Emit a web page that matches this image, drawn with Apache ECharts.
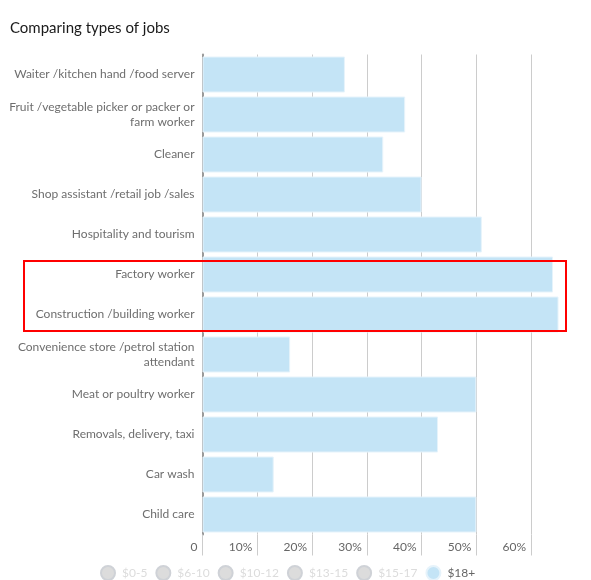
<!DOCTYPE html>
<html>
<head>
<meta charset="utf-8">
<script src="https://cdn.jsdelivr.net/npm/echarts@6/dist/echarts.min.js"></script>
<style>
html,body{margin:0;padding:0;background:#fff;}
#chart{width:591px;height:580px;}
</style>
</head>
<body>
<div id="chart"></div>
<script>
var categories = [
  'Waiter /kitchen hand /food server',
  'Fruit /vegetable picker or packer or\nfarm worker',
  'Cleaner',
  'Shop assistant /retail job /sales',
  'Hospitality and tourism',
  'Factory worker',
  'Construction /building worker',
  'Convenience store /petrol station\nattendant',
  'Meat or poultry worker',
  'Removals, delivery, taxi',
  'Car wash',
  'Child care'
];
var seriesNames = ['$0-5', '$6-10', '$10-12', '$13-15', '$15-17', '$18+'];
var values18plus = [26, 37, 33, 40, 51, 64, 65, 16, 50, 43, 13, 50];
var tickValues = [0, 10, 20, 30, 40, 50, 60];
var highlighted = ['Factory worker', 'Construction /building worker'];

var FONT = 'Lato, "Noto Sans", sans-serif';
var chart = echarts.init(document.getElementById('chart'), null, {renderer: 'canvas'});

var selected = {};
seriesNames.forEach(function (n, i) { selected[n] = (i === seriesNames.length - 1); });

var series = seriesNames.map(function (n, i) {
  return {
    name: n,
    type: 'bar',
    data: i === seriesNames.length - 1 ? values18plus : [],
    barCategoryGap: '10%',
    itemStyle: {color: '#c4e4f6', borderColor: '#e6f3fb', borderWidth: 1},
    emphasis: {disabled: true},
    animation: false
  };
});

chart.setOption({
  animation: false,
  textStyle: {fontFamily: FONT},
  title: {
    text: 'Comparing types of jobs',
    left: 5,
    top: 16,
    textStyle: {fontSize: 15, fontWeight: 'normal', color: '#1a1a1a', fontFamily: FONT}
  },
  legend: {
    data: seriesNames,
    selected: selected,
    icon: 'circle',
    itemWidth: 18,
    itemHeight: 14,
    itemGap: 8,
    left: 95,
    top: 560,
    inactiveColor: '#dcdcdc',
    textStyle: {fontSize: 12, color: '#666', fontFamily: FONT}
  },
  grid: {left: 202.5, right: 27, top: 54.5, bottom: 45.5, containLabel: false},
  xAxis: {
    type: 'value',
    min: 0,
    max: 66,
    axisLine: {show: false},
    axisTick: {show: true, length: 21, customValues: tickValues, lineStyle: {color: '#cccccc', width: 1}},
    splitLine: {show: true, lineStyle: {color: '#cccccc', width: 1}},
    axisLabel: {
      customValues: tickValues,
      fontSize: 12,
      color: '#666',
      margin: 7,
      align: 'right',
      padding: [0, 5, 0, 0],
      formatter: function (v) { return v === 0 ? '0' : v + '%'; }
    }
  },
  yAxis: {
    type: 'category',
    inverse: true,
    data: categories,
    axisLine: {show: true, lineStyle: {color: '#999', width: 2}},
    axisTick: {show: false},
    axisLabel: {fontSize: 12, color: '#6e6e6e', margin: 8, lineHeight: 15, align: 'right', padding: [4, 0, 0, 0]}
  },
  series: series
});

var yTop = chart.convertToPixel({yAxisIndex: 0}, highlighted[0]);
var yBot = chart.convertToPixel({yAxisIndex: 0}, highlighted[1]);
var xRight = chart.convertToPixel({xAxisIndex: 0}, 66);
chart.setOption({
  graphic: [{
    type: 'rect',
    shape: {x: 24, y: yTop - 13.5, width: xRight + 2 - 24, height: (yBot + 16.5) - (yTop - 13.5)},
    style: {fill: 'none', stroke: '#ff0000', lineWidth: 2},
    z: 100
  }]
});
</script>
</body>
</html>
